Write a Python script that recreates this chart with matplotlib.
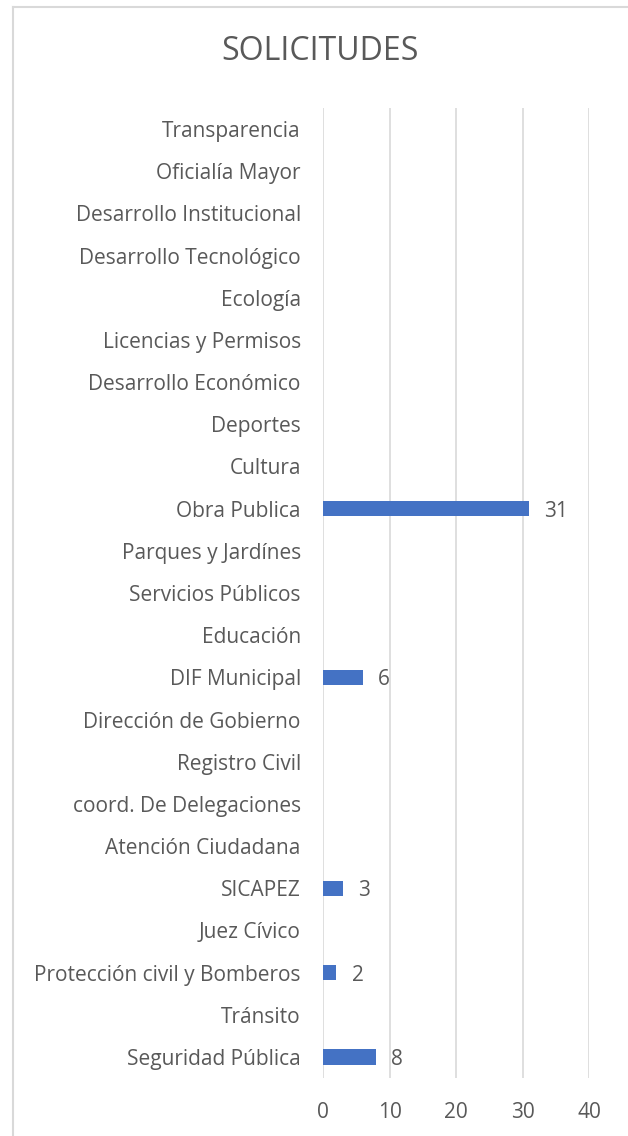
import matplotlib.pyplot as plt
from matplotlib.lines import Line2D

# Solicitudes por área (de abajo hacia arriba)
areas = [
    "Seguridad Pública", "Tránsito", "Protección civil y Bomberos", "Juez Cívico",
    "SICAPEZ", "Atención Ciudadana", "coord. De Delegaciones", "Registro Civil",
    "Dirección de Gobierno", "DIF Municipal", "Educación", "Servicios Públicos",
    "Parques y Jardínes", "Obra Publica", "Cultura", "Deportes",
    "Desarrollo Económico", "Licencias y Permisos", "Ecología",
    "Desarrollo Tecnológico", "Desarrollo Institucional", "Oficialía Mayor",
    "Transparencia",
]
solicitudes = [8, 0, 2, 0, 3, 0, 0, 0, 0, 6, 0, 0, 0, 31, 0, 0, 0, 0, 0, 0, 0, 0, 0]
x_ticks = [0, 10, 20, 30, 40]

plt.rcParams['font.family'] = ['Open Sans', 'DejaVu Sans']
texto = '#595959'

W, H = 628, 1136
fig = plt.figure(figsize=(W / 100, H / 100), dpi=100)
ax = fig.add_axes([323 / W, 1 - 1078 / H, 266 / W, 970 / H])

y = range(len(areas))
ax.barh(y, solicitudes, height=0.36, color='#4472C4', zorder=3)

# etiquetas de valor solo donde hay solicitudes
for i, v in enumerate(solicitudes):
    if v:
        ax.annotate(str(v), (v, i), xytext=(11, 0), textcoords='offset points',
                    va='center_baseline', ha='left', fontsize=15, color=texto)

ax.set_xlim(0, 40)
ax.set_ylim(-0.5, len(areas) - 0.5)
ax.set_xticks(x_ticks)
ax.set_yticks(list(y))
ax.set_yticklabels(areas)
ax.tick_params(axis='y', length=0, pad=16, labelsize=15, labelcolor=texto)
ax.tick_params(axis='x', length=0, pad=17, labelsize=15, labelcolor=texto)
ax.grid(axis='x', color='#D9D9D9', linewidth=1.2, zorder=0)
for s in ax.spines.values():
    s.set_visible(False)

fig.text(0.5 * (12 + W) / W, 1 - 52 / H, 'SOLICITUDES', ha='center', va='center',
         fontsize=23, color=texto)

# marco del gráfico
fig.add_artist(Line2D([13 / W, 1], [1 - 7 / H, 1 - 7 / H], color='#D9D9D9', lw=1.5))
fig.add_artist(Line2D([13 / W, 13 / W], [0, 1 - 7 / H], color='#D9D9D9', lw=1.5))

fig.savefig('out.png', dpi=100)
